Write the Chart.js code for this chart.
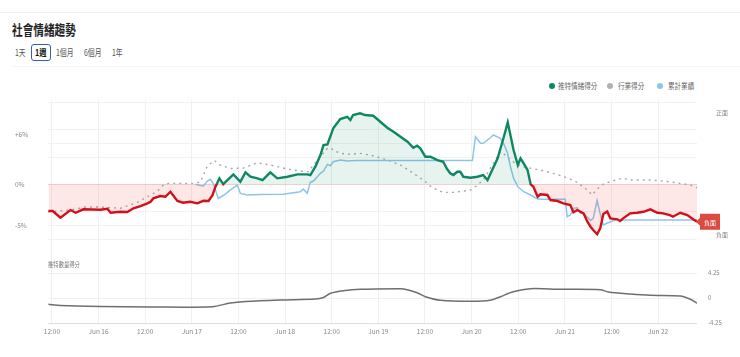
<!DOCTYPE html>
<html><head><meta charset="utf-8">
<script src="https://cdn.jsdelivr.net/npm/chart.js@4.4.1/dist/chart.umd.min.js"></script>
<style>
html,body{margin:0;padding:0;background:#fff;width:740px;height:357px;overflow:hidden;font-family:"Noto Sans CJK TC","Noto Sans",sans-serif;}
#wrap{position:relative;width:740px;height:357px;}
.abs{position:absolute;}
.sx{display:inline-block;transform-origin:left center;white-space:nowrap}
#topline{left:0;top:12px;width:740px;height:1px;background:#f3f3f3}
#sepline{left:12px;top:66px;width:728px;height:1px;background:#f5f5f5}
#title{left:12px;top:19px;font-size:14px;font-weight:700;color:#222;line-height:20px;}
#title .sx{transform:scaleX(0.76)}
.btn{position:absolute;top:45px;font-size:9px;color:#555;line-height:15px;height:15px;white-space:nowrap}
.btn .sx{transform:scaleX(0.76)}
#b2{left:31px;width:18px;border:1.5px solid #2f63b0;border-radius:3px;color:#111;font-weight:700;top:44px}
#b2 .sx{transform:scaleX(0.8);margin-left:3px}
.leg{position:absolute;top:80px;font-size:8px;color:#666;line-height:12px;white-space:nowrap}
.leg .sx{transform:scaleX(0.82)}
.dot{position:absolute;top:3px;width:6px;height:6px;border-radius:50%}
#volTitle{left:48px;top:259px;font-size:7px;color:#777;line-height:10px}
#volTitle .sx{transform:scaleX(0.76)}
canvas{position:absolute;left:0}
</style></head>
<body><div id="wrap">
<div class="abs" id="topline"></div>
<div class="abs" id="sepline"></div>
<div class="abs" id="title"><span class="sx">社會情緒趨勢</span></div>
<div class="btn" style="left:15px"><span class="sx">1天</span></div>
<div class="btn" id="b2"><span class="sx">1週</span></div>
<div class="btn" style="left:56px"><span class="sx">1個月</span></div>
<div class="btn" style="left:84px"><span class="sx">6個月</span></div>
<div class="btn" style="left:112px"><span class="sx">1年</span></div>
<div class="leg" style="left:549px"><span class="dot" style="left:0;background:#0e8763"></span><span class="sx" style="margin-left:9px">推特情緒得分</span></div>
<div class="leg" style="left:607px"><span class="dot" style="left:0;background:#b0b0b0"></span><span class="sx" style="margin-left:11px">行業得分</span></div>
<div class="leg" style="left:657px"><span class="dot" style="left:0;background:#8ec5e6"></span><span class="sx" style="margin-left:11px">累計業績</span></div>
<canvas id="c1" width="740" height="160" style="top:95px"></canvas>
<canvas id="c2" width="740" height="110" style="top:245px"></canvas>
<div class="abs" id="volTitle"><span class="sx">推特數量得分</span></div>
</div>
<script>
// ---- data (x = hours since Jun 15 00:00) ----
const sentimentHours = [11.1,12.2,14.2,16.8,18.1,20.1,24.5,26.3,27.1,29.6,31.4,33.0,34.8,36.6,37.4,38.1,39.9,41.2,42.5,44.3,45.8,47.6,49.4,51.0,52.3,53.3,54.1,55.1,56.1,58.7,60.5,61.8,63.1,64.9,66.2,68.2,70.0,72.6,75.2,77.7,78.5,79.8,81.1,81.9,82.9,84.4,86.2,88.0,88.8,89.5,91.3,92.6,94.7,96.5,98.3,99.9,101.7,103.5,105.0,106.0,106.8,108.1,109.4,111.2,112.7,113.7,114.5,115.3,116.3,117.1,117.9,119.7,121.5,123.0,124.1,126.7,128.3,129.3,130.8,131.9,132.6,133.4,134.4,135.2,135.9,137.0,137.7,139.5,140.3,142.1,143.6,145.4,146.2,147.2,148.8,149.8,150.6,151.3,152.3,153.1,153.9,154.9,155.7,157.5,158.2,159.0,160.8,162.6,164.2,166.0,167.8,169.3,171.0,171.8,173.7,175.5,177.0,178.0];
const sentimentValues = [-3.26,-3.26,-4.08,-3.14,-3.47,-3.05,-3.10,-2.98,-3.47,-3.35,-3.38,-2.93,-2.65,-2.32,-2.13,-1.72,-1.44,-1.52,-0.91,-2.04,-2.25,-2.13,-2.32,-2.01,-2.04,-1.37,-0.30,0.72,0.02,1.20,0.30,1.45,0.91,0.72,0.51,1.45,0.72,0.91,1.20,1.20,1.12,2.13,3.55,4.77,4.85,6.80,7.93,8.21,7.81,8.42,8.63,8.42,8.33,7.60,6.87,6.39,5.78,5.17,4.44,4.68,4.37,3.35,3.35,2.94,2.74,1.85,1.33,1.12,1.52,1.52,0.91,0.79,0.91,1.12,0.51,3.15,5.78,7.53,4.16,2.34,3.15,2.54,1.73,-0.01,-0.30,-1.52,-1.23,-1.31,-1.92,-2.04,-2.32,-2.53,-3.42,-3.14,-3.54,-4.56,-5.17,-5.57,-6.08,-5.37,-3.63,-3.32,-4.15,-4.27,-4.48,-4.15,-3.54,-3.47,-3.35,-3.05,-3.47,-3.54,-3.75,-3.95,-3.47,-3.75,-4.27,-4.56];

const industryHours = [11.1,16.8,20.6,24.5,29.6,34.0,36.6,39.2,40.7,42.0,48.4,50.2,52.0,53.8,55.3,57.9,61.3,64.9,68.2,72.6,75.9,78.0,79.3,81.1,82.9,83.7,84.4,86.2,88.8,91.3,94.7,98.3,101.7,105.0,107.6,109.4,111.2,112.7,115.3,117.9,119.7,121.5,123.0,124.8,126.1,127.4,128.7,130.0,131.9,134.4,137.7,141.0,144.6,147.2,149.8,151.0,152.3,153.9,155.7,159.0,160.8,166.0,169.3,172.9,176.3,178.0];
const industryValues = [-3.38,-3.14,-2.77,-2.77,-2.93,-2.20,-1.52,-0.83,-0.10,0.11,0.11,0.27,2.21,2.88,2.34,1.91,1.97,2.62,2.34,1.85,1.61,1.52,2.34,3.35,4.37,4.44,4.16,3.76,3.64,3.76,3.47,2.94,2.34,1.33,0.51,-0.22,-0.71,-0.99,-0.99,-0.83,-0.71,-0.10,0.51,1.93,2.94,3.95,3.55,2.94,2.34,2.01,1.73,1.33,0.79,0.23,-0.71,-1.31,-0.58,0.02,0.33,0.75,0.51,0.51,0.39,0.18,-0.10,-0.43];

const performanceHours = [48.9,50.2,51.0,52.0,52.8,53.6,54.8,56.1,57.9,58.7,59.7,60.5,62.3,65.6,71.5,74.2,75.9,76.7,77.7,78.5,79.3,80.3,81.1,81.9,82.9,83.7,84.4,86.2,88.0,90.1,120.2,121.0,122.3,123.0,124.8,125.6,127.4,128.2,129.2,130.0,130.8,131.9,133.4,135.2,137.0,138.5,144.1,144.6,145.4,146.2,147.2,148.0,148.8,150.6,151.3,152.3,153.1,153.9,155.7,157.5,158.2,159.0,178.0];
const performanceValues = [-0.01,-0.16,-0.22,0.39,0.60,0.02,-1.72,-1.37,-0.71,-0.43,-0.10,-1.11,-1.31,-1.25,-1.23,-1.03,-0.91,-0.58,-1.11,0.23,0.39,0.91,1.33,1.61,2.42,2.25,2.74,2.94,2.82,2.88,2.88,5.78,4.98,4.98,5.66,5.99,5.58,4.98,3.88,2.13,0.72,-0.30,-0.91,-1.31,-1.80,-1.84,-1.84,-3.95,-3.75,-2.93,-2.86,-3.54,-3.54,-4.42,-4.15,-1.98,-3.63,-4.96,-4.56,-4.27,-4.44,-4.36,-4.36];

const volumeHours = [11.1,14.2,24.5,37.4,53.3,57.9,61.8,70.8,79.8,81.9,83.7,87.0,91.4,101.7,102.5,106.0,108.1,112.0,119.7,124.8,127.4,130.7,135.1,142.8,153.1,155.2,160.8,166.0,173.7,176.3,178.0];
const volumeValues = [-1.07,-1.28,-1.45,-1.53,-1.48,-0.85,-0.60,-0.34,-0.17,0.09,0.80,1.24,1.48,1.58,1.53,0.90,0.22,-0.39,-0.56,-0.39,0.22,1.07,1.58,1.48,1.41,1.02,0.68,0.46,0.34,-0.22,-0.90];

const xTickHours = [12,24,36,48,60,72,84,96,108,120,132,144,156,168];
const xTickLabels = ['12:00','Jun 16','12:00','Jun 17','12:00','Jun 18','12:00','Jun 19','12:00','Jun 20','12:00','Jun 21','12:00','Jun 22'];
const yGridValues = [10,6.7,5,3.3,0,-3.3,-5,-6.7];
const yLabelValues = [6,0,-5];
const yLabelTexts = ['+6%','0%','-5%'];
const sideLabelValues = [8.66,-6.18];
const sideLabelTexts = ['正面','負面'];
const volumeTickValues = [4.25,0,-4.25];
const volumeTickLabels = ['4.25','0','-4.25'];
const badgeText = '負面';

// ---- styling ----
const GREEN = '#0e8763', RED = '#d0111c';
const FONT = '"Noto Sans CJK TC","Noto Sans",sans-serif';
Chart.defaults.font.family = FONT;
Chart.defaults.font.size = 7;
Chart.defaults.color = '#888';
const X_MIN = 11, X_MAX = 178;
const pts = (hs, vs) => hs.map((h, i) => ({x: h, y: vs[i]}));
const noPad = s => { s.paddingTop = 0; s.paddingBottom = 0; s.paddingLeft = 0; s.paddingRight = 0; };

function splitColor(ctx) {
  const c = ctx.chart, a = c.chartArea;
  if (!a) return GREEN;
  const y0 = c.scales.y.getPixelForValue(0);
  const f = Math.min(1, Math.max(0, (y0 - a.top) / (a.bottom - a.top)));
  const g = c.ctx.createLinearGradient(0, a.top, 0, a.bottom);
  g.addColorStop(0, GREEN); g.addColorStop(f, GREEN);
  g.addColorStop(f, RED); g.addColorStop(1, RED);
  return g;
}

const badge = {
  id: 'badge',
  afterDatasetsDraw(chart) {
    const meta = chart.getDatasetMeta(0);
    const p = meta.data[meta.data.length - 1];
    const ctx = chart.ctx, x = chart.chartArea.right, y = p.y;
    ctx.save();
    ctx.fillStyle = '#dc4a41';
    ctx.beginPath();
    ctx.moveTo(x - 1, y);
    ctx.lineTo(x + 3, y - 4);
    ctx.lineTo(x + 3, y - 8);
    ctx.lineTo(x + 23, y - 8);
    ctx.lineTo(x + 23, y + 8);
    ctx.lineTo(x + 3, y + 8);
    ctx.lineTo(x + 3, y + 4);
    ctx.closePath();
    ctx.fill();
    ctx.fillStyle = '#fff';
    ctx.font = '6px ' + FONT;
    ctx.textAlign = 'center';
    ctx.textBaseline = 'middle';
    ctx.fillText(badgeText, x + 13, y + 0.5);
    ctx.restore();
  }
};

new Chart(document.getElementById('c1'), {
  type: 'line',
  data: {
    datasets: [
      {label: '推特情緒得分', data: pts(sentimentHours, sentimentValues), borderColor: splitColor, borderWidth: 2.4,
       pointRadius: 0, tension: 0, fill: {target: 'origin', above: 'rgba(14,135,99,0.10)', below: 'rgba(240,70,70,0.13)'}},
      {label: '累計業績', data: pts(performanceHours, performanceValues), borderColor: '#8ec5e6', borderWidth: 1.5,
       pointRadius: 0, tension: 0, fill: false},
      {label: '行業得分', data: pts(industryHours, industryValues), borderColor: '#a9a9a9', borderWidth: 1.4,
       borderDash: [2, 4], pointRadius: 0, tension: 0, fill: false}
    ]
  },
  options: {
    responsive: false, animation: false,
    layout: {padding: {left: 15, right: 0, top: 5, bottom: 5}},
    plugins: {legend: {display: false}, tooltip: {enabled: false}},
    scales: {
      x: {type: 'linear', min: X_MIN, max: X_MAX,
          afterBuildTicks: s => { s.ticks = xTickHours.map(v => ({value: v})); },
          afterFit: s => { s.height = 0; noPad(s); },
          ticks: {display: false},
          grid: {color: '#f0f0f0', drawTicks: false}, border: {display: false}},
      y: {type: 'linear', position: 'left', min: -8, max: 10.25,
          afterBuildTicks: s => { s.ticks = [...new Set([...yGridValues, ...yLabelValues])].sort((a, b) => a - b).map(v => ({value: v})); },
          afterFit: s => { s.width = 33; noPad(s); },
          ticks: {crossAlign: 'far', color: '#888', font: {size: 6.5},
                  callback: v => { const i = yLabelValues.indexOf(v); return i >= 0 ? yLabelTexts[i] : ''; }},
          grid: {drawTicks: false, color: c => (c.tick && yGridValues.includes(c.tick.value)) ? (c.tick.value === 0 ? '#f3d4d4' : '#f2f2f2') : 'rgba(0,0,0,0)'},
          border: {display: false}},
      yR: {type: 'linear', position: 'right', min: -8, max: 10.25,
          afterBuildTicks: s => { s.ticks = sideLabelValues.map(v => ({value: v})); },
          afterFit: s => { s.width = 43; noPad(s); },
          ticks: {padding: 11, color: '#888', font: {size: 6},
                  callback: v => sideLabelTexts[sideLabelValues.indexOf(v)]},
          grid: {display: false}, border: {display: false}}
    }
  },
  plugins: [badge]
});

new Chart(document.getElementById('c2'), {
  type: 'line',
  data: {
    datasets: [
      {label: '推特數量得分', data: pts(volumeHours, volumeValues), borderColor: '#6f6f6f', borderWidth: 1.5,
       pointRadius: 0, tension: 0.3, fill: false}
    ]
  },
  options: {
    responsive: false, animation: false,
    layout: {padding: {left: 48, right: 0, top: 5, bottom: 12}},
    plugins: {legend: {display: false}, tooltip: {enabled: false}},
    scales: {
      x: {type: 'linear', min: X_MIN, max: X_MAX,
          afterBuildTicks: s => { s.ticks = xTickHours.map(v => ({value: v})); },
          afterFit: s => { s.height = 20; noPad(s); },
          ticks: {padding: 5, maxRotation: 0, autoSkip: false, color: '#888', font: {size: 6.5},
                  callback: v => xTickLabels[xTickHours.indexOf(v)]},
          grid: {color: '#f0f0f0', drawTicks: false}, border: {display: false}},
      y: {type: 'linear', position: 'right', min: -4.25, max: 8.16,
          afterBuildTicks: s => { s.ticks = volumeTickValues.map(v => ({value: v})); },
          afterFit: s => { s.width = 43; noPad(s); },
          ticks: {padding: 11, color: '#888', font: {size: 6},
                  callback: v => volumeTickLabels[volumeTickValues.indexOf(v)]},
          grid: {drawTicks: false, color: c => (c.tick && c.tick.value === -4.25) ? '#dedede' : '#f0f0f0'},
          border: {display: false}}
    }
  }
});
</script>
</body></html>
